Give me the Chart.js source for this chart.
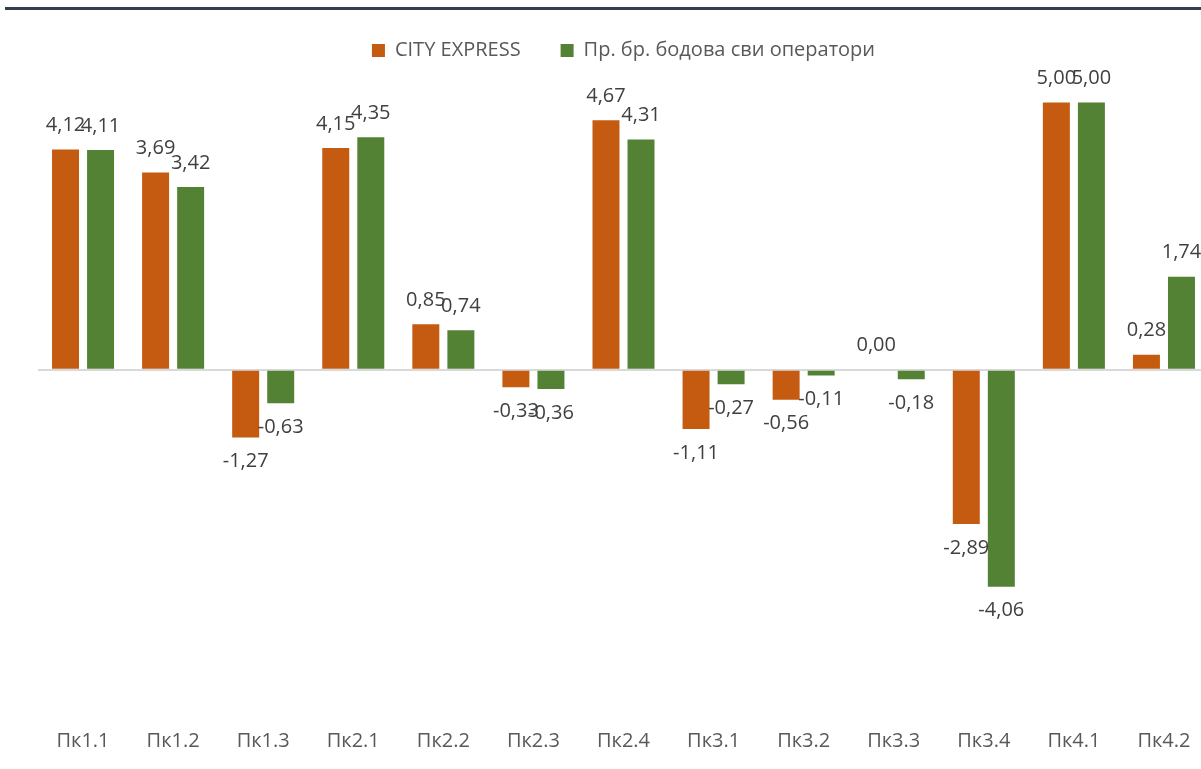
<!DOCTYPE html>
<html>
<head>
<meta charset="utf-8">
<script src="https://cdn.jsdelivr.net/npm/chart.js@4/dist/chart.umd.min.js"></script>
<style>
  html, body { margin: 0; padding: 0; background: #ffffff; overflow: hidden; }
  #wrap { position: relative; width: 1212px; height: 769px; }
  #topline { position: absolute; left: 5px; right: 0; top: 7px; height: 3px; background: #333F50; z-index: 2; }
</style>
</head>
<body>
<div id="wrap">
  <div id="topline"></div>
  <canvas id="c" width="1212" height="769"></canvas>
</div>
<script>
const categories = ['Пк1.1','Пк1.2','Пк1.3','Пк2.1','Пк2.2','Пк2.3','Пк2.4','Пк3.1','Пк3.2','Пк3.3','Пк3.4','Пк4.1','Пк4.2'];
const seriesNames = ['CITY EXPRESS', 'Пр. бр. бодова сви оператори'];
const cityExpress = [4.12, 3.69, -1.27, 4.15, 0.85, -0.33, 4.67, -1.11, -0.56, 0.00, -2.89, 5.00, 0.28];
const allOperators = [4.11, 3.42, -0.63, 4.35, 0.74, -0.36, 4.31, -0.27, -0.11, -0.18, -4.06, 5.00, 1.74];

const FONT = "'Open Sans', 'Noto Sans', sans-serif";

const valueLabels = {
  id: 'valueLabels',
  afterDatasetsDraw(chart) {
    const ctx = chart.ctx;
    ctx.save();
    ctx.font = '20px ' + FONT;
    ctx.fillStyle = '#404040';
    ctx.textAlign = 'center';
    ctx.textBaseline = 'middle';
    chart.data.datasets.forEach((ds, di) => {
      const meta = chart.getDatasetMeta(di);
      meta.data.forEach((el, i) => {
        const v = ds.data[i];
        const txt = v.toFixed(2).replace('.', ',');
        const y = v >= 0 ? el.y - 24 : el.y + 24;
        ctx.fillText(txt, el.x, y);
      });
    });
    ctx.restore();
  }
};

new Chart(document.getElementById('c'), {
  type: 'bar',
  data: {
    labels: categories,
    datasets: [
      { label: seriesNames[0], data: cityExpress, backgroundColor: '#C55A11', categoryPercentage: 0.778, barPercentage: 0.77 },
      { label: seriesNames[1], data: allOperators, backgroundColor: '#548235', categoryPercentage: 0.778, barPercentage: 0.77 }
    ]
  },
  options: {
    responsive: false,
    animation: false,
    layout: { padding: { left: 38, right: 3, top: 0.5, bottom: 4 } },
    plugins: {
      legend: {
        position: 'top',
        labels: {
          boxWidth: 13, boxHeight: 13, padding: 40,
          color: '#595959',
          font: { family: FONT, size: 20 }
        }
      },
      tooltip: { enabled: false }
    },
    scales: {
      x: {
        grid: { display: false, drawTicks: false },
        border: { display: false },
        ticks: { color: '#595959', padding: 12, font: { family: FONT, size: 20 }, maxRotation: 0, autoSkip: false }
      },
      y: {
        min: -6.5, max: 5.6,
        afterBuildTicks: (axis) => { axis.ticks = [{ value: 0 }]; },
        grid: { color: '#D9D9D9', lineWidth: 2, drawTicks: false },
        border: { display: false },
        ticks: { display: false }
      }
    }
  },
  plugins: [valueLabels]
});
</script>
</body>
</html>
